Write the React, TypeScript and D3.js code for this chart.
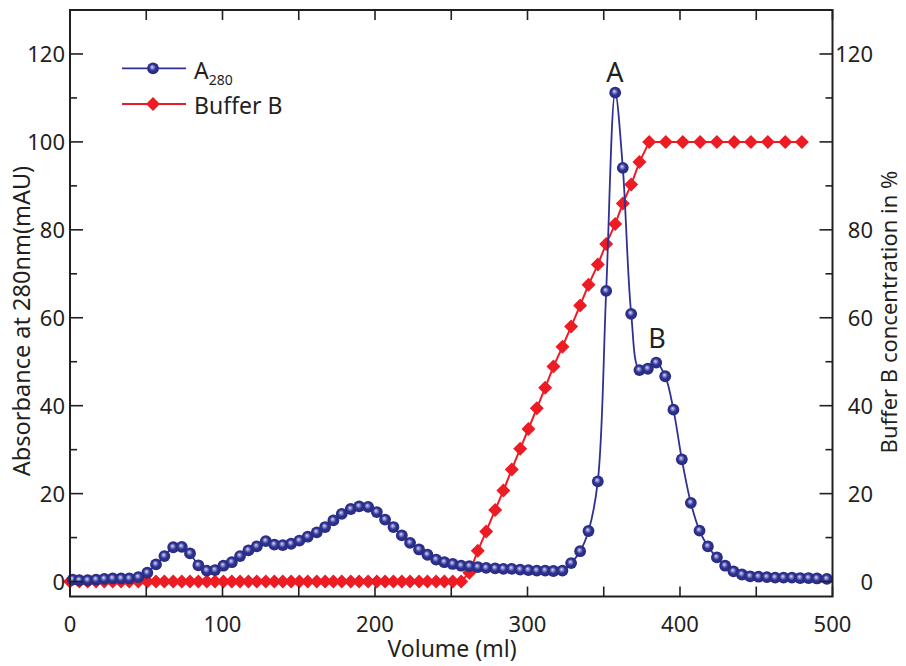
import React from "react";
import * as d3 from "d3";

const a280Volume = [1.8, 6.1, 11.6, 17.1, 22.5, 28.0, 33.5, 38.9, 44.8, 50.7, 56.4, 61.9, 67.7, 73.3, 78.7, 84.2, 89.7, 95.1, 100.6, 106.1, 111.5, 117.0, 122.5, 128.4, 134.0, 139.5, 145.0, 150.4, 155.9, 161.8, 167.3, 172.7, 178.2, 184.1, 189.6, 195.5, 201.2, 206.6, 212.1, 217.6, 223.0, 228.9, 234.4, 240.1, 245.5, 251.0, 256.5, 261.9, 267.4, 272.9, 278.8, 284.2, 289.7, 295.2, 300.6, 306.1, 311.6, 317.0, 322.9, 328.6, 334.5, 340.0, 346.1, 351.6, 357.5, 362.5, 368.0, 373.4, 378.9, 384.4, 390.3, 395.7, 401.2, 407.1, 412.8, 418.3, 424.2, 429.6, 435.1, 440.6, 446.0, 451.5, 457.0, 462.4, 467.9, 473.4, 478.8, 484.3, 489.8, 496.3];
const a280Abs = [0.45, 0.3, 0.3, 0.45, 0.6, 0.7, 0.7, 0.7, 1.0, 2.0, 3.9, 5.8, 7.8, 7.9, 6.4, 3.7, 2.5, 2.6, 3.6, 4.4, 5.8, 7.1, 8.0, 9.2, 8.4, 8.3, 8.6, 9.3, 10.2, 11.2, 12.4, 13.9, 15.4, 16.5, 17.1, 17.0, 15.8, 14.1, 12.4, 10.5, 8.8, 7.3, 6.1, 5.0, 4.4, 4.0, 3.6, 3.5, 3.3, 3.1, 3.0, 2.9, 2.9, 2.7, 2.6, 2.5, 2.5, 2.4, 2.5, 4.2, 6.9, 11.5, 22.8, 66.1, 111.2, 94.1, 60.9, 48.1, 48.4, 49.8, 46.7, 39.1, 27.8, 17.9, 11.6, 8.0, 5.5, 3.6, 2.3, 1.6, 1.2, 1.1, 1.0, 0.9, 0.9, 0.9, 0.8, 0.8, 0.7, 0.6];

const bufferVolume = [0, 6.1, 11.6, 17.1, 22.5, 28.0, 33.5, 38.9, 44.8, 50.7, 56.4, 61.9, 67.7, 73.3, 78.7, 84.2, 89.7, 95.1, 100.6, 106.1, 111.5, 117.0, 122.5, 128.4, 134.0, 139.5, 145.0, 150.4, 155.9, 161.8, 167.3, 172.7, 178.2, 184.1, 189.6, 195.5, 201.2, 206.6, 212.1, 217.6, 223.0, 228.9, 234.4, 240.1, 245.5, 251.0, 256.5, 261.9, 267.4, 272.9, 278.8, 284.2, 289.7, 295.2, 300.6, 306.1, 311.6, 317.0, 322.9, 328.6, 334.5, 340.0, 346.1, 351.6, 357.5, 362.5, 368.0, 373.4, 379.8, 390.7, 401.8, 413.2, 424.2, 435.5, 446.5, 457.6, 469.0, 479.9];
const bufferPct = [0, 0, 0, 0, 0, 0, 0, 0, 0, 0, 0, 0, 0, 0, 0, 0, 0, 0, 0, 0, 0, 0, 0, 0, 0, 0, 0, 0, 0, 0, 0, 0, 0, 0, 0, 0, 0, 0, 0, 0, 0, 0, 0, 0, 0, 0, 0, 2.0, 7.0, 11.4, 16.3, 20.7, 25.5, 30.2, 34.7, 39.4, 44.1, 48.9, 53.4, 58.0, 62.8, 67.5, 72.1, 76.8, 81.3, 86.0, 90.3, 95.4, 100, 100, 100, 100, 100, 100, 100, 100, 100, 100];

const xTicks = [0, 100, 200, 300, 400, 500];
const xMinorTicks = [0, 50, 100, 150, 200, 250, 300, 350, 400, 450, 500];
const yLeftTicks = [0, 20, 40, 60, 80, 100, 120];
const yRightTicks = [0, 20, 40, 60, 80, 120];
const yTickMarks = [0, 20, 40, 60, 80, 100, 120];
const yMinorTicks = [10, 30, 50, 70, 90, 110];

const FONT = "'Noto Sans', 'Open Sans', sans-serif";
const BLUE = "#2e3192";
const RED = "#ed1c24";
const AXIS = "#231f20";

export default function App() {
  const left = 70, right = 832.5, top = 10, bottom = 596.5;
  const x = d3.scaleLinear().domain([0, 500]).range([left, right]);
  const y = d3.scaleLinear().domain([-3.4, 130]).range([bottom, top]);

  const a280 = a280Volume.map((v, i) => [v, a280Abs[i]] as [number, number]);
  const buf = bufferVolume.map((v, i) => [v, bufferPct[i]] as [number, number]);

  const blueLine = d3.line<[number, number]>().x(d => x(d[0])).y(d => y(d[1])).curve(d3.curveCatmullRom.alpha(0.5))(a280) || "";
  const redLine = d3.line<[number, number]>().x(d => x(d[0])).y(d => y(d[1]))(buf) || "";

  const diamond = (cx: number, cy: number, r: number) => `M${cx},${cy - r}L${cx + r},${cy}L${cx},${cy + r}L${cx - r},${cy}Z`;

  return (
    <svg width={906} height={666} style={{ position: "absolute", left: 0, top: 0, background: "#fff" }} fontFamily={FONT}>
      <defs>
        <radialGradient id="ball" cx="0.5" cy="0.5" r="0.55" fx="0.42" fy="0.38">
          <stop offset="0" stopColor="#dcdcf2" />
          <stop offset="0.22" stopColor="#8a8ed0" />
          <stop offset="0.5" stopColor="#2e3192" />
          <stop offset="1" stopColor="#252a7a" />
        </radialGradient>
      </defs>

      {/* Buffer B */}
      <path d={redLine} fill="none" stroke={RED} strokeWidth={2} />
      {buf.map((d, i) => (
        <path key={"r" + i} d={diamond(x(d[0]), y(d[1]), 7)} fill={RED} />
      ))}

      {/* A280 */}
      <path d={blueLine} fill="none" stroke={BLUE} strokeWidth={1.8} />
      {a280.map((d, i) => (
        <circle key={"b" + i} cx={x(d[0])} cy={y(d[1])} r={5.9} fill="url(#ball)" />
      ))}

      {/* frame */}
      <rect x={left} y={top} width={right - left} height={bottom - top} fill="none" stroke={AXIS} strokeWidth={2} />

      {/* x ticks bottom & top */}
      {xMinorTicks.map(t => (
        <g key={"xt" + t}>
          <line x1={x(t)} x2={x(t)} y1={bottom} y2={bottom - 10} stroke={AXIS} strokeWidth={1.6} />
          <line x1={x(t)} x2={x(t)} y1={top} y2={top + 10} stroke={AXIS} strokeWidth={1.6} />
        </g>
      ))}
      {xTicks.map(t => (
        <text key={"xl" + t} x={x(t)} y={632} fontSize={22} textAnchor="middle" fill={AXIS}>{t}</text>
      ))}

      {/* y ticks left & right */}
      {yTickMarks.map(t => (
        <g key={"yt" + t}>
          <line x1={left} x2={left + 13} y1={y(t)} y2={y(t)} stroke={AXIS} strokeWidth={1.6} />
          <line x1={right} x2={right - 13} y1={y(t)} y2={y(t)} stroke={AXIS} strokeWidth={1.6} />
        </g>
      ))}
      {yMinorTicks.map(t => (
        <g key={"ym" + t}>
          <line x1={left} x2={left + 7} y1={y(t)} y2={y(t)} stroke={AXIS} strokeWidth={1.6} />
          <line x1={right} x2={right - 7} y1={y(t)} y2={y(t)} stroke={AXIS} strokeWidth={1.6} />
        </g>
      ))}
      {yLeftTicks.map(t => (
        <text key={"yl" + t} x={65} y={y(t) + 8} fontSize={22} textAnchor="end" fill={AXIS}>{t}</text>
      ))}
      {yRightTicks.map(t => (
        <text key={"yr" + t} x={873} y={y(t) + 8} fontSize={22} textAnchor="end" fill={AXIS}>{t}</text>
      ))}

      {/* axis titles */}
      <text x={452} y={657} fontSize={23} textAnchor="middle" fill={AXIS}>Volume (ml)</text>
      <text transform="translate(30,321) rotate(-90)" fontSize={23.5} textAnchor="middle" fill={AXIS}>Absorbance at 280nm(mAU)</text>
      <text transform="translate(897,312) rotate(-90)" fontSize={22} textAnchor="middle" fill={AXIS}>Buffer B concentration in %</text>

      {/* peak labels */}
      <text x={615} y={82} fontSize={27} textAnchor="middle" fill={AXIS}>A</text>
      <text x={657} y={348} fontSize={27} textAnchor="middle" fill={AXIS}>B</text>

      {/* legend */}
      <line x1={122} x2={186} y1={68.3} y2={68.3} stroke={BLUE} strokeWidth={1.8} />
      <circle cx={153} cy={68.3} r={5.9} fill="url(#ball)" />
      <text x={194} y={78.5} fontSize={23} fill={AXIS}>A<tspan fontSize={14} dy={6}>280</tspan></text>
      <line x1={122} x2={186} y1={104} y2={104} stroke={RED} strokeWidth={2} />
      <path d={diamond(153, 104, 7)} fill={RED} />
      <text x={194} y={113.5} fontSize={23} fill={AXIS}>Buffer B</text>
    </svg>
  );
}
